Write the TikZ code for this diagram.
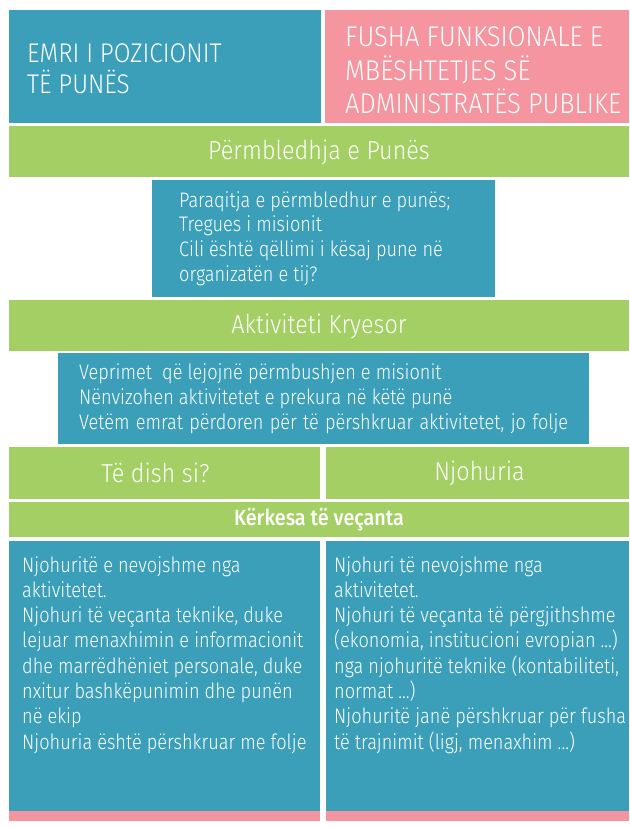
\documentclass[tikz,border=0pt]{standalone}
\usepackage{fontspec}
% light humanist sans, falling back to the regular cut where no light one exists
\IfFontExistsTF{Fira Sans Light}{%
  \setmainfont{Fira Sans Light}[BoldFont=Fira Sans Medium, FakeStretch=0.9]%
  \newfontfamily\bodyfont{Fira Sans Light}[FakeStretch=0.865]%
}{%
  \IfFontExistsTF{Lato Light}{%
    \setmainfont{Lato Light}[BoldFont=Lato Bold, FakeStretch=0.9]%
    \newfontfamily\bodyfont{Lato Light}[FakeStretch=0.865]%
  }{%
    \setmainfont{Fira Sans}[FakeStretch=0.9]%
    \newfontfamily\bodyfont{Fira Sans}[FakeStretch=0.865]%
  }%
}
\definecolor{panelblue}{HTML}{3B9FBA}
\definecolor{panelpink}{HTML}{F4959F}
\definecolor{panelgreen}{HTML}{A4CF64}
\begin{document}
\begin{tikzpicture}[x=1pt, y=-1pt,
  panel/.style n args={3}{anchor=north west, inner sep=0pt, outer sep=0pt,
    fill=#1, minimum width=#2, minimum height=#3},
  bigcaps/.style={text=white, align=left, inner sep=0pt, font=\fontsize{27}{31}\selectfont},
  headtxt/.style={text=white, inner sep=0pt, font=\fontsize{26}{30}\selectfont},
  subhead/.style={text=white, inner sep=0pt, font=\bfseries\fontsize{22}{26}\selectfont},
  bodytxt/.style={text=white, align=left, inner sep=0pt, font=\bodyfont\fontsize{21}{24.8}\selectfont},
]
\useasboundingbox (0,0) rectangle (629,827);

% title row
\node[panel={panelblue}{312pt}{113pt}] (posbox) at (9,10) {};
\node[panel={panelpink}{304pt}{113pt}] (fieldbox) at (325,10) {};
\node[bigcaps, anchor=west] (postxt) at ([xshift=18pt, yshift=-2pt]posbox.west)
  {EMRI I POZICIONIT\\TË PUNËS};
\node[bigcaps, anchor=west, font=\fontsize{28.5}{33.5}\selectfont] (fieldtxt) at ([xshift=20pt, yshift=-4pt]fieldbox.west)
  {FUSHA FUNKSIONALE E\\MBËSHTETJES SË\\ADMINISTRATËS PUBLIKE};

% job summary
\node[panel={panelgreen}{620pt}{51pt}] (sumbar) at (9,126) {};
\node[headtxt] (sumhead) at ([yshift=-1pt]sumbar.center) {Përmbledhja e Punës};
\node[panel={panelblue}{343pt}{117pt}] (sumbox) at (152,180) {};
\node[bodytxt, anchor=west] (sumtxt) at ([xshift=27pt]sumbox.west)
  {Paraqitja e përmbledhur e punës;\\Tregues i misionit\\Cili është qëllimi i kësaj pune në\\organizatën e tij?};

% main activity
\node[panel={panelgreen}{620pt}{51pt}] (actbar) at (9,300) {};
\node[headtxt] (acthead) at ([yshift=-1pt]actbar.center) {Aktiviteti Kryesor};
\node[panel={panelblue}{531pt}{91pt}] (actbox) at (58,353) {};
\node[bodytxt, anchor=west] (acttxt) at ([xshift=21pt]actbox.west)
  {Veprimet\ \ që lejojnë përmbushjen e misionit\\Nënvizohen aktivitetet e prekura në këtë punë\\\makebox[489pt][s]{Vetëm emrat përdoren për të përshkruar aktivitetet, jo folje}};

% know-how and knowledge
\node[panel={panelgreen}{311pt}{52pt}] (howbar) at (9,447) {};
\node[panel={panelgreen}{303pt}{52pt}] (knowbar) at (326,447) {};
\node[headtxt] (howhead) at ([xshift=-9pt]howbar.center) {Të dish si?};
\node[headtxt] (knowhead) at ([xshift=2pt]knowbar.center) {Njohuria};
\node[panel={panelgreen}{620pt}{35pt}] (reqbar) at (9,502) {};
\node[subhead] (reqhead) at (reqbar.center) {Kërkesa të veçanta};

\node[panel={panelblue}{311pt}{270pt}] (howbox) at (9,541) {};
\node[panel={panelblue}{303pt}{270pt}] (knowbox) at (326,541) {};
\node[panel={panelpink}{311pt}{10pt}] (howfoot) at (howbox.south west) {};
\node[panel={panelpink}{303pt}{10pt}] (knowfoot) at (knowbox.south west) {};
\node[bodytxt, anchor=north west, font=\bodyfont\fontsize{21}{25.3}\selectfont] (howtxt) at ([xshift=13pt, yshift=-15pt]howbox.north west)
  {Njohuritë e nevojshme nga\\aktivitetet.\\Njohuri të veçanta teknike, duke\\lejuar menaxhimin e informacionit\\dhe marrëdhëniet personale, duke\\nxitur bashkëpunimin dhe punën\\në ekip\\Njohuria është përshkruar me folje};
\node[bodytxt, anchor=north west, font=\bodyfont\fontsize{21}{25.3}\selectfont] (knowtxt) at ([xshift=8pt, yshift=-15pt]knowbox.north west)
  {Njohuri të nevojshme nga\\aktivitetet.\\Njohuri të veçanta të përgjithshme\\(ekonomia, institucioni evropian ...)\\nga njohuritë teknike (kontabiliteti,\\normat ...)\\Njohuritë janë përshkruar për fusha\\të trajnimit (ligj, menaxhim ...)};
\end{tikzpicture}
\end{document}
